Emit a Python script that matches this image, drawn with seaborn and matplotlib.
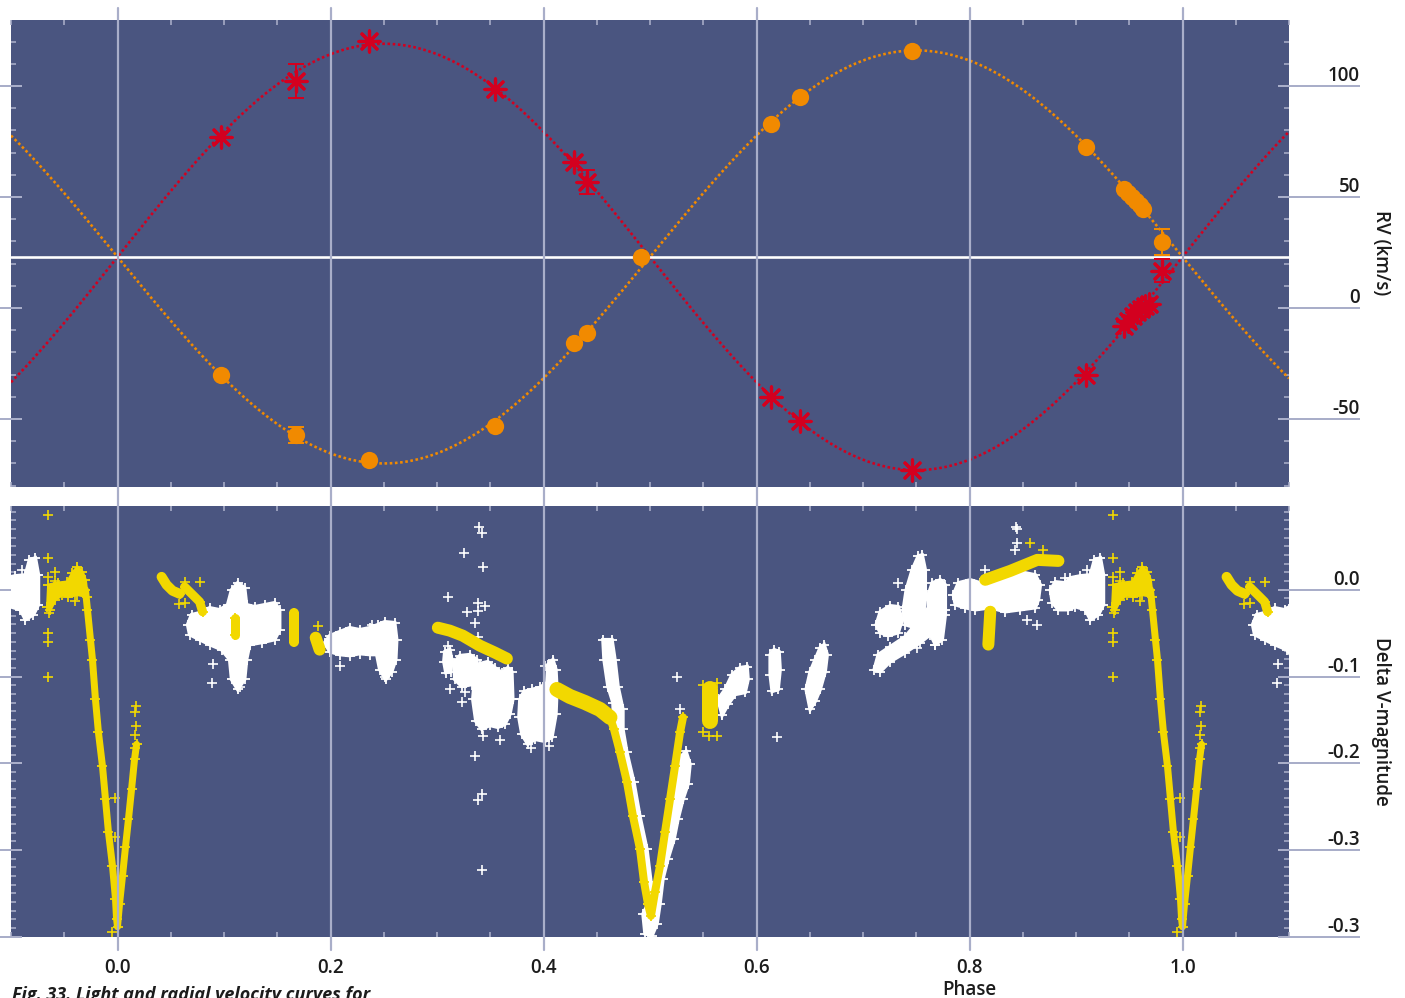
import numpy as np
import matplotlib
matplotlib.use("Agg")
import matplotlib.pyplot as plt
import seaborn as sns
from matplotlib.ticker import FixedLocator, FixedFormatter, MultipleLocator, NullLocator

# ---------------- Radial velocity data ----------------
rv_primary_phase = [0.0968, 0.1673, 0.2359, 0.3543, 0.4286, 0.4408, 0.6137, 0.6410, 0.7462, 0.9098,
                    0.9455, 0.9492, 0.9539, 0.9577, 0.9615, 0.9652, 0.9690, 0.9812]
rv_primary = [77.0, 102.3, 120.3, 98.6, 65.8, 56.8, -40.1, -50.9, -73.0, -30.2,
              -8.1, -5.9, -3.6, -1.8, -0.5, 0.9, 1.8, 16.7]
rv_primary_err = [0, 7.7, 0, 0, 0, 5.5, 0, 0, 0, 0, 0, 0, 0, 0, 0, 0, 0, 5.2]

rv_secondary_phase = [0.0968, 0.1673, 0.2359, 0.3543, 0.4286, 0.4408, 0.4915, 0.6137, 0.6410, 0.7462,
                      0.9098, 0.9455, 0.9492, 0.9530, 0.9568, 0.9605, 0.9633, 0.9812]
rv_secondary = [-30.2, -57.2, -68.5, -53.2, -15.8, -11.3, 23.0, 82.9, 95.0, 115.8,
                72.5, 53.6, 51.8, 50.0, 48.2, 46.4, 44.6, 29.7]
rv_secondary_err = [0, 3.5, 0, 0, 0, 0, 0, 0, 0, 0, 0, 0, 0, 0, 0, 0, 0, 5.9]

# orbital solution (systemic velocity and semi-amplitudes, km/s)
gamma = 23.0
K_primary = 96.0
K_secondary = 93.0

rv_ticks = [-50, 0, 50, 100]
rv_tick_labels = ["-50", "0", "50", "100"]

# ---------------- Light curve data (phase, delta V) ----------------
# dense yellow runs (centre lines)
yellow_primary_eclipse = [(-0.0301, 0.0), (-0.0282, -0.0230), (-0.0254, -0.0575), (-0.0235, -0.0805),
                          (-0.0207, -0.1264), (-0.0179, -0.1644), (-0.0141, -0.2034), (-0.0113, -0.2414),
                          (-0.0085, -0.2793), (-0.0047, -0.3184), (-0.0019, -0.3563), (-0.0009, -0.3793),
                          (0.0, -0.3885), (0.0019, -0.3621), (0.0047, -0.3299), (0.0075, -0.2966),
                          (0.0103, -0.2644), (0.0132, -0.2299), (0.0160, -0.1954), (0.0179, -0.1782)]
yellow_run_2 = [(0.0414, 0.0149), (0.0461, 0.0057), (0.0517, -0.0011), (0.0583, -0.0046)]
yellow_run_3 = [(0.0630, 0.0034), (0.0724, -0.0080), (0.0771, -0.0138), (0.0799, -0.0253)]
yellow_run_4 = [(0.1100, -0.0322), (0.1100, -0.0517)]
yellow_run_5 = [(0.1654, -0.0270), (0.1654, -0.0600)]
yellow_run_6 = [(0.1861, -0.0552), (0.1898, -0.0690)]
yellow_run_7 = [(0.3008, -0.0437), (0.3120, -0.0471), (0.3242, -0.0529), (0.3402, -0.0644),
                (0.3543, -0.0724), (0.3656, -0.0793)]
yellow_run_8 = [(0.4126, -0.1149), (0.4248, -0.1230), (0.4389, -0.1299), (0.4530, -0.1379), (0.4624, -0.1471)]
yellow_secondary_eclipse = [(0.4624, -0.1471), (0.4662, -0.1609), (0.4718, -0.1874), (0.4784, -0.2218),
                            (0.4840, -0.2609), (0.4906, -0.2989), (0.4944, -0.3368), (0.4981, -0.3621),
                            (0.5009, -0.3759), (0.5047, -0.3483), (0.5094, -0.3184), (0.5141, -0.2793),
                            (0.5188, -0.2414), (0.5235, -0.2034), (0.5282, -0.1644), (0.5310, -0.1471)]
yellow_run_9 = [(0.5564, -0.1149), (0.5564, -0.1517)]
yellow_run_10 = [(0.8148, 0.0115), (0.8383, 0.0218), (0.8637, 0.0345), (0.8835, 0.0333)]
yellow_run_11 = [(0.8195, -0.0253), (0.8177, -0.0632)]
# yellow hump before primary eclipse (outline)
yellow_hump = [(-0.0648, 0.0057), (-0.0555, 0.0080), (-0.0470, 0.0092), (-0.0423, 0.0195),
               (-0.0376, 0.0264), (-0.0329, 0.0207), (-0.0301, 0.0115), (-0.0282, -0.0080),
               (-0.0376, -0.0057), (-0.0461, -0.0080), (-0.0517, -0.0057), (-0.0583, -0.0115),
               (-0.0630, -0.0230), (-0.0658, -0.0195)]
yellow_single = [(-0.0648, 0.0862), (-0.0648, 0.0368), (-0.0648, 0.0149), (-0.0583, 0.0207),
                 (-0.0583, 0.0103), (-0.0639, -0.0264), (-0.0648, -0.0494), (-0.0648, -0.0598),
                 (-0.0648, -0.1011), (-0.0395, -0.0126), (-0.0028, -0.2402), (-0.0028, -0.2851),
                 (-0.0047, -0.3940), (0.017, -0.134), (0.016, -0.141), (0.017, -0.157), (0.016, -0.167),
                 (0.016, -0.182), (0.0630, 0.0092), (0.0771, 0.0092), (0.0573, -0.0161), (0.0630, -0.0149),
                 (0.1880, -0.0414), (0.5498, -0.1092), (0.5630, -0.1080), (0.5498, -0.1644),
                 (0.5555, -0.1690), (0.5630, -0.1690), (0.8571, 0.0540), (0.8694, 0.0460)]

# white clouds (outlines)
white_cloud_1 = [(0.0658, -0.0402), (0.0695, -0.0287), (0.0771, -0.0264), (0.0865, -0.0207), (0.0959, -0.0230),
                 (0.1034, -0.0172), (0.1071, 0.0), (0.1128, 0.0080), (0.1194, 0.0023), (0.1212, -0.0172),
                 (0.1288, -0.0195), (0.1382, -0.0172), (0.1476, -0.0149), (0.1523, -0.0230), (0.1523, -0.0460),
                 (0.1476, -0.0575), (0.1353, -0.0609), (0.1241, -0.0632), (0.1212, -0.0805), (0.1194, -0.1034),
                 (0.1128, -0.1149), (0.1071, -0.1034), (0.1053, -0.0805), (0.0977, -0.0690), (0.0865, -0.0632),
                 (0.0771, -0.0575), (0.0677, -0.0517)]
white_cloud_2 = [(0.1945, -0.0609), (0.1992, -0.0529), (0.2086, -0.0483), (0.2180, -0.0437), (0.2274, -0.0460),
                 (0.2368, -0.0437), (0.2444, -0.0402), (0.2509, -0.0368), (0.2603, -0.0379), (0.2622, -0.0575),
                 (0.2613, -0.0805), (0.2575, -0.0943), (0.2519, -0.1034), (0.2462, -0.0920), (0.2434, -0.0747),
                 (0.2368, -0.0747), (0.2274, -0.0736), (0.2180, -0.0759), (0.2086, -0.0747), (0.1992, -0.0713)]
white_cloud_3 = [(0.3073, -0.0713), (0.3120, -0.0690), (0.3139, -0.0805), (0.3130, -0.0943), (0.3083, -0.0954),
                 (0.3064, -0.0828)]
white_cloud_4 = [(0.3158, -0.0839), (0.3214, -0.0759), (0.3308, -0.0747), (0.3374, -0.0805), (0.3383, -0.0977),
                 (0.3327, -0.1092), (0.3233, -0.1115), (0.3167, -0.1034)]
white_cloud_5 = [(0.3355, -0.0977), (0.3402, -0.0851), (0.3477, -0.0828), (0.3543, -0.0897), (0.3609, -0.0954),
                 (0.3665, -0.0897), (0.3703, -0.0943), (0.3712, -0.1264), (0.3684, -0.1437), (0.3637, -0.1552),
                 (0.3571, -0.1586), (0.3496, -0.1563), (0.3421, -0.1609), (0.3365, -0.1517), (0.3336, -0.1264)]
white_cloud_6 = [(0.3778, -0.1264), (0.3816, -0.1172), (0.3891, -0.1149), (0.3966, -0.1126), (0.4032, -0.1069),
                 (0.4041, -0.0862), (0.4088, -0.0805), (0.4117, -0.0920), (0.4126, -0.1149), (0.4117, -0.1437),
                 (0.4079, -0.1701), (0.4013, -0.1747), (0.3919, -0.1724), (0.3853, -0.1782), (0.3797, -0.1667),
                 (0.3769, -0.1471)]
white_cloud_7 = [(0.4558, -0.0575), (0.4643, -0.0575), (0.4671, -0.0805), (0.4700, -0.1115), (0.4746, -0.1379),
                 (0.4746, -0.1609), (0.4783, -0.1874), (0.4849, -0.2218), (0.4905, -0.2609), (0.4971, -0.2989),
                 (0.5009, -0.3368), (0.5046, -0.3621), (0.4981, -0.3621), (0.4944, -0.3368), (0.4906, -0.2989),
                 (0.4840, -0.2609), (0.4784, -0.2218), (0.4718, -0.1874), (0.4662, -0.1609), (0.4652, -0.1300),
                 (0.4605, -0.1115), (0.4568, -0.0805)]
white_cloud_8 = [(0.5169, -0.2759), (0.5207, -0.2414), (0.5244, -0.2126), (0.5282, -0.1931), (0.5338, -0.1862),
                 (0.5376, -0.2011), (0.5357, -0.2241), (0.5310, -0.2414), (0.5263, -0.2644), (0.5226, -0.2874),
                 (0.5169, -0.3103), (0.5122, -0.3333), (0.5094, -0.3621), (0.5066, -0.3851), (0.5019, -0.3989),
                 (0.4953, -0.3966), (0.4934, -0.3736), (0.4981, -0.3621), (0.5047, -0.3506), (0.5113, -0.3218)]
white_cloud_9 = [(0.5639, -0.1264), (0.5705, -0.1149), (0.5771, -0.0977), (0.5846, -0.0897), (0.5912, -0.0885),
                 (0.5921, -0.1034), (0.5893, -0.1184), (0.5799, -0.1207), (0.5733, -0.1322), (0.5677, -0.1448)]
white_cloud_10 = [(0.6128, -0.0747), (0.6165, -0.0690), (0.6212, -0.0713), (0.6222, -0.0920), (0.6203, -0.1149),
                  (0.6147, -0.1172), (0.6128, -0.0977)]
white_cloud_11 = [(0.6466, -0.1149), (0.6504, -0.0943), (0.6551, -0.0805), (0.6598, -0.0667), (0.6635, -0.0632),
                  (0.6664, -0.0747), (0.6645, -0.0943), (0.6598, -0.1149), (0.6551, -0.1287), (0.6504, -0.1379)]
white_cloud_12 = [(0.7105, -0.0920), (0.7143, -0.0747), (0.7256, -0.0655), (0.7397, -0.0540), (0.7491, -0.0402),
                  (0.7585, -0.0253), (0.7679, -0.0115), (0.7744, -0.0092), (0.7773, -0.0230), (0.7726, -0.0402),
                  (0.7632, -0.0517), (0.7538, -0.0609), (0.7397, -0.0724), (0.7256, -0.0828), (0.7162, -0.0943)]
white_cloud_13 = [(0.7124, -0.0402), (0.7162, -0.0253), (0.7256, -0.0184), (0.7331, -0.0195), (0.7368, -0.0345),
                  (0.7331, -0.0494), (0.7237, -0.0529), (0.7162, -0.0494)]
white_cloud_14 = [(0.7378, -0.0230), (0.7406, 0.0), (0.7462, 0.0230), (0.7519, 0.0391), (0.7556, 0.0402),
                  (0.7585, 0.0230), (0.7585, -0.0115), (0.7556, -0.0345), (0.7491, -0.0437), (0.7397, -0.0402)]
white_cloud_15 = [(0.7613, -0.0057), (0.7650, 0.0080), (0.7726, 0.0115), (0.7773, 0.0057), (0.7773, -0.0287),
                  (0.7744, -0.0575), (0.7679, -0.0632), (0.7613, -0.0460)]
white_cloud_16 = [(0.7848, -0.0057), (0.7895, 0.0080), (0.8008, 0.0115), (0.8102, 0.0080), (0.8195, 0.0138),
                  (0.8289, 0.0172), (0.8383, 0.0207), (0.8477, 0.0207), (0.8618, 0.0172), (0.8665, 0.0057),
                  (0.8647, -0.0115), (0.8618, -0.0207), (0.8477, -0.0230), (0.8336, -0.0253), (0.8195, -0.0207),
                  (0.8055, -0.0230), (0.7961, -0.0207), (0.7867, -0.0172)]
white_cloud_17 = [(0.8759, 0.0), (0.8806, 0.0092), (0.8900, 0.0080), (0.8947, 0.0138), (0.9041, 0.0161),
                  (0.9135, 0.0172), (0.9173, 0.0345), (0.9229, 0.0368), (0.9258, 0.0172), (0.9258, -0.0172),
                  (0.9211, -0.0287), (0.9135, -0.0345), (0.9088, -0.0230), (0.8994, -0.0195), (0.8929, -0.0230),
                  (0.8835, -0.0230), (0.8778, -0.0149)]
white_single = [(0.9107, 0.0230), (0.8440, 0.0724), (0.8450, 0.0700), (0.8449, 0.0540), (0.8430, 0.0460),
                (0.8148, 0.0230), (0.8637, -0.0402), (0.8900, 0.0138), (0.8540, -0.0345), (0.7331, 0.0080),
                (0.7679, -0.0632), (0.7510, -0.0667), (0.6194, -0.1701), (0.5254, -0.1011), (0.5282, -0.1379),
                (0.3882, -0.1828), (0.4051, -0.1805), (0.4013, -0.0874), (0.3214, -0.1034), (0.3261, -0.1184),
                (0.3233, -0.1299), (0.3430, -0.1690), (0.3590, -0.1736), (0.3393, 0.0724), (0.3421, 0.0655),
                (0.3252, 0.0425), (0.3430, 0.0264), (0.3102, -0.0080), (0.3383, -0.0149), (0.3449, -0.0184),
                (0.3280, -0.0253), (0.3383, -0.0241), (0.3355, -0.0379), (0.3383, -0.0540), (0.3102, -0.0644),
                (0.3120, -0.1149), (0.3355, -0.1920), (0.3421, -0.2356), (0.3383, -0.2425), (0.3421, -0.3230),
                (0.2086, -0.0874), (0.2387, -0.0402), (0.2509, -0.1011), (0.0893, -0.0851), (0.0883, -0.1080),
                (0.1147, -0.1126)]

lc_ticks = [0.0, -0.1, -0.2, -0.3, -0.4]
lc_tick_labels = ["0.0", "-0.1", "-0.2", "-0.3", "-0.3"]
phase_ticks = [0.0, 0.2, 0.4, 0.6, 0.8, 1.0]

# ---------------- Styling ----------------
sns.set_theme(style="white")
plt.rcParams['font.family'] = ['Open Sans', 'DejaVu Sans']

BG = '#4a5580'
TICK = '#a9aec9'
RED = '#d3001f'
ORANGE = '#f18a00'
YELLOW = '#f2d800'
TEXT = '#1c1c1c'
PX = 0.72  # points per pixel at 100 dpi
LABEL_SIZE = 13.5
LABEL_WEIGHT = 'semibold'

W, H = 1405, 998
fig = plt.figure(figsize=(W / 100, H / 100), dpi=100)
fig.patch.set_facecolor('white')

ax1 = fig.add_axes([11 / W, 1 - 487 / H, 1278 / W, 467 / H])
ax2 = fig.add_axes([11 / W, 1 - 937 / H, 1278 / W, 431 / H])

# ---------------- RV panel ----------------
phase_grid = np.linspace(-0.1, 1.1, 600)
model_primary = gamma + K_primary * np.sin(2 * np.pi * phase_grid)
model_secondary = gamma - K_secondary * np.sin(2 * np.pi * phase_grid)
sns.lineplot(x=phase_grid, y=model_primary, ax=ax1, color=RED, linewidth=2.6 * PX,
             linestyle=(0, (1, 1)), zorder=2, sort=False, estimator=None)
sns.lineplot(x=phase_grid, y=model_secondary, ax=ax1, color=ORANGE, linewidth=2.6 * PX,
             linestyle=(0, (1, 1)), zorder=2, sort=False, estimator=None)
ax1.axhline(gamma, color='white', lw=2.6 * PX, zorder=2.5)

ax1.errorbar(rv_primary_phase, rv_primary, yerr=rv_primary_err, fmt='none', ecolor=RED,
             elinewidth=2 * PX, capsize=8 * PX, capthick=2 * PX, zorder=3)
ax1.errorbar(rv_secondary_phase, rv_secondary, yerr=rv_secondary_err, fmt='none', ecolor=ORANGE,
             elinewidth=2 * PX, capsize=8 * PX, capthick=2 * PX, zorder=3)
sns.scatterplot(x=rv_secondary_phase, y=rv_secondary, ax=ax1, marker='o', s=155, color=ORANGE,
                linewidth=0, zorder=4, legend=False)
sns.scatterplot(x=rv_primary_phase, y=rv_primary, ax=ax1, marker=(8, 2, 0), s=230, color=RED,
                edgecolor=RED, linewidth=3.2 * PX, zorder=4, legend=False)

# ---------------- Light curve panel ----------------
yellow_runs = [yellow_primary_eclipse, yellow_run_2, yellow_run_3, yellow_run_4, yellow_run_5,
               yellow_run_6, yellow_run_7, yellow_run_8, yellow_secondary_eclipse, yellow_run_9,
               yellow_run_10, yellow_run_11]
yellow_widths = [7, 10, 9, 9, 10, 12, 12, 15, 8, 16, 12, 12]
white_clouds = [white_cloud_1, white_cloud_2, white_cloud_3, white_cloud_4, white_cloud_5, white_cloud_6,
                white_cloud_7, white_cloud_8, white_cloud_9, white_cloud_10, white_cloud_11, white_cloud_12,
                white_cloud_13, white_cloud_14, white_cloud_15, white_cloud_16, white_cloud_17]


def split(pts, shift):
    return [p + shift for p, _ in pts], [m for _, m in pts]


for shift in (-1, 0, 1):
    for cloud in white_clouds:
        xs, ys = split(cloud, shift)
        ax2.fill(xs, ys, facecolor='white', edgecolor='white', lw=2.5, zorder=2)
        sns.scatterplot(x=xs, y=ys, ax=ax2, marker='+', s=55, color='white', linewidth=1.3,
                        zorder=2.2, legend=False)
    xs, ys = split(white_single, shift)
    sns.scatterplot(x=xs, y=ys, ax=ax2, marker='+', s=45, color='white', linewidth=1.2,
                    zorder=2.2, legend=False)

    xs, ys = split(yellow_hump, shift)
    ax2.fill(xs, ys, facecolor=YELLOW, edgecolor=YELLOW, lw=2, zorder=3)
    sns.scatterplot(x=xs, y=ys, ax=ax2, marker='+', s=50, color=YELLOW, linewidth=1.3,
                    zorder=3.2, legend=False)
    for run, wpx in zip(yellow_runs, yellow_widths):
        xs, ys = split(run, shift)
        ax2.plot(xs, ys, color=YELLOW, lw=wpx * PX, solid_capstyle='round',
                 solid_joinstyle='round', zorder=3)
        sns.scatterplot(x=xs, y=ys, ax=ax2, marker='+', s=50, color=YELLOW, linewidth=1.3,
                        zorder=3.2, legend=False)
    xs, ys = split(yellow_single, shift)
    sns.scatterplot(x=xs, y=ys, ax=ax2, marker='+', s=45, color=YELLOW, linewidth=1.2,
                    zorder=3.2, legend=False)


# ---------------- Axes cosmetics ----------------
def style_axes(ax, ylim, majors, labels, minor_step, top_ext, bottom_ext):
    ax.set_facecolor(BG)
    for s in ax.spines.values():
        s.set_visible(False)
    ax.set_xlim(-0.1, 1.1)
    ax.set_ylim(*ylim)
    ax.set_xlabel('')
    ax.set_ylabel('')
    ax.xaxis.set_major_locator(FixedLocator(phase_ticks))
    ax.xaxis.set_minor_locator(MultipleLocator(0.05))
    ax.tick_params(axis='x', which='major', length=0, bottom=True, top=False,
                   labelbottom=False, labeltop=False)
    ax.tick_params(axis='x', which='minor', direction='in', length=5 * PX, width=1.6 * PX,
                   color=TICK, bottom=True, top=True)
    ax.yaxis.set_major_locator(FixedLocator(majors))
    ax.yaxis.set_minor_locator(MultipleLocator(minor_step))
    ax.tick_params(axis='y', which='major', direction='inout', length=23 * PX, width=2 * PX,
                   color=TICK, left=True, right=True, labelleft=False, labelright=False)
    ax.tick_params(axis='y', which='minor', direction='in', length=5 * PX, width=1.6 * PX,
                   color=TICK, left=True, right=True)
    sec = ax.secondary_yaxis('right')
    for s in sec.spines.values():
        s.set_visible(False)
    sec.yaxis.set_major_locator(FixedLocator(majors))
    sec.yaxis.set_major_formatter(FixedFormatter(labels))
    sec.yaxis.set_minor_locator(NullLocator())
    sec.tick_params(axis='y', which='major', direction='out', length=71 * PX, width=2 * PX,
                    color=TICK, pad=0, labelsize=LABEL_SIZE, labelcolor=TEXT)
    for lab in sec.get_yticklabels():
        lab.set_horizontalalignment('right')
        lab.set_verticalalignment('bottom')
        lab.set_fontweight(LABEL_WEIGHT)
    h = ax.get_position().height * H
    for x in phase_ticks:
        ax.axvline(x, ymin=-bottom_ext / h, ymax=1 + top_ext / h, color=TICK, lw=2.2 * PX,
                   clip_on=False, zorder=10)


style_axes(ax1, (-80.6, 129.7), rv_ticks, rv_tick_labels, 10, 12, 19)
style_axes(ax2, (-0.4003, 0.0966), lc_ticks, lc_tick_labels, 0.01, 0, 13)
ax2.tick_params(axis='x', which='major', labelbottom=True, pad=21 * PX, labelsize=LABEL_SIZE,
                labelcolor=TEXT)
for lab in ax2.get_xticklabels():
    lab.set_fontweight(LABEL_WEIGHT)

fig.text(1381 / W, 1 - 253 / H, 'RV (km/s)', rotation=-90, ha='center', va='center',
         fontsize=LABEL_SIZE, fontweight=LABEL_WEIGHT, color=TEXT)
fig.text(1381 / W, 1 - 721 / H, 'Delta V-magnitude', rotation=-90, ha='center', va='center',
         fontsize=LABEL_SIZE, fontweight=LABEL_WEIGHT, color=TEXT)
fig.text(969 / W, 1 - 990 / H, 'Phase', ha='center', va='center', fontsize=LABEL_SIZE,
         fontweight=LABEL_WEIGHT, color=TEXT)
fig.text(12 / W, 1 - 986 / H, 'Fig. 33. Light and radial velocity curves for', ha='left', va='top',
         fontsize=13, fontweight='bold', fontstyle='italic', color=TEXT)

fig.savefig('out.png', dpi=100, facecolor='white')
